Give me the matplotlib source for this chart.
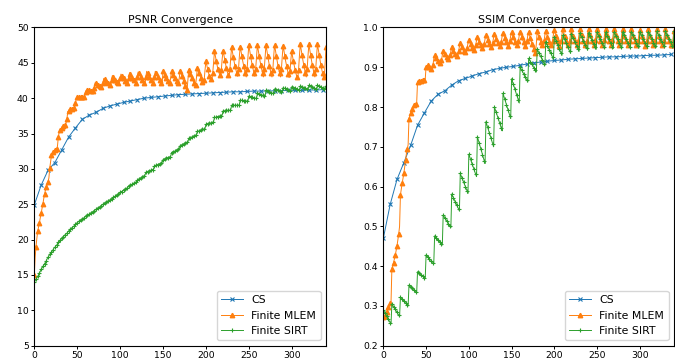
import numpy as np
import matplotlib
matplotlib.use("Agg")
import matplotlib.pyplot as plt

# CS is sampled every 8 iterations, the finite methods every iteration
cs_iters = np.arange(0, 337, 8)

cs_psnr = [24.9, 27.7, 29.8, 30.9, 32.7, 34.5, 35.8, 37.0, 37.6, 38.0,
           38.55, 38.9, 39.15, 39.4, 39.6, 39.8, 40.0, 40.1, 40.2, 40.3,
           40.4, 40.5, 40.55, 40.6, 40.65, 40.7, 40.75, 40.8, 40.85, 40.9,
           40.9, 40.95, 41.0, 41.0, 41.0, 41.05, 41.05, 41.1, 41.1, 41.1,
           41.15, 41.15, 41.2]

cs_ssim = [0.470, 0.555, 0.618, 0.660, 0.704, 0.754, 0.785, 0.815, 0.832, 0.841,
           0.855, 0.866, 0.872, 0.878, 0.884, 0.888, 0.894, 0.897, 0.900, 0.902,
           0.905, 0.908, 0.911, 0.913, 0.915, 0.917, 0.918, 0.920, 0.921, 0.922,
           0.923, 0.924, 0.925, 0.926, 0.926, 0.927, 0.928, 0.928, 0.929, 0.930,
           0.930, 0.931, 0.932]

mlem_psnr = [
    15.0, 17.5, 19.0, 20.2, 21.2, 21.8, 22.4, 23.1, 23.7, 24.4,
    25.0, 25.8, 26.4, 27.0, 27.4, 27.8, 28.2, 28.7, 30.1, 31.0,
    31.9, 32.2, 32.4, 32.5, 32.6, 32.7, 32.8, 33.2, 34.5, 35.2,
    35.5, 35.7, 35.8, 35.9, 36.0, 36.1, 36.2, 36.5, 37.0, 38.1,
    38.2, 38.3, 38.4, 38.4, 38.5, 38.5, 38.6, 38.8, 39.3, 40.0,
    40.1, 40.1, 40.1, 40.2, 40.2, 40.2, 40.2, 40.2, 40.2, 40.5,
    40.9, 41.1, 41.2, 41.2, 41.1, 41.1, 41.0, 41.0, 41.0, 41.0,
    41.5, 42.2, 42.1, 42.0, 41.9, 41.8, 41.7, 41.6, 41.6, 41.5,
    42.2, 42.8, 42.7, 42.5, 42.3, 42.2, 42.1, 42.0, 41.9, 41.9,
    42.6, 43.2, 43.0, 42.8, 42.6, 42.4, 42.3, 42.2, 42.1, 42.0,
    42.8, 43.4, 43.2, 43.0, 42.8, 42.6, 42.4, 42.3, 42.1, 42.0,
    42.9, 43.6, 43.4, 43.1, 42.9, 42.7, 42.5, 42.3, 42.2, 42.0,
    43.0, 43.7, 43.5, 43.2, 43.0, 42.7, 42.5, 42.3, 42.2, 42.0,
    43.0, 43.8, 43.6, 43.3, 43.0, 42.8, 42.6, 42.4, 42.2, 42.1,
    43.0, 43.8, 43.6, 43.3, 43.0, 42.8, 42.6, 42.4, 42.2, 42.1,
    43.8, 43.6, 43.3, 43.0, 42.8, 42.6, 42.4, 42.2, 42.1, 42.9,
    43.8, 43.6, 43.3, 43.0, 42.8, 42.6, 42.4, 42.2, 42.1, 42.9,
    43.9, 43.6, 43.2, 42.8, 42.4, 42.0, 41.7, 41.4, 41.1, 42.5,
    44.0, 43.7, 43.4, 43.1, 42.8, 42.5, 42.2, 42.0, 41.9, 42.9,
    44.2, 43.9, 43.5, 43.2, 42.9, 42.6, 42.3, 42.1, 42.6, 44.0,
    45.2, 44.7, 44.1, 43.6, 43.2, 42.9, 42.7, 42.6, 43.6, 45.2,
    46.6, 46.0, 45.3, 44.7, 44.1, 43.7, 43.3, 43.0, 44.0, 45.6,
    46.7, 46.1, 45.4, 44.8, 44.2, 43.7, 43.3, 43.0, 44.1, 45.8,
    47.2, 46.5, 45.8, 45.1, 44.5, 44.0, 43.5, 43.1, 44.1, 45.9,
    47.3, 46.6, 45.9, 45.2, 44.6, 44.0, 43.5, 43.0, 44.1, 45.9,
    47.5, 46.8, 46.0, 45.3, 44.7, 44.1, 43.6, 43.1, 44.1, 45.9,
    47.5, 46.8, 46.0, 45.3, 44.7, 44.1, 43.5, 43.0, 44.1, 45.9,
    47.5, 46.8, 46.0, 45.3, 44.6, 44.0, 43.5, 43.0, 44.0, 45.9,
    47.5, 46.8, 46.0, 45.3, 44.6, 44.0, 43.5, 43.0, 44.1, 45.9,
    47.4, 46.7, 45.9, 45.2, 44.6, 44.0, 43.4, 42.9, 43.8, 45.4,
    46.6, 45.9, 45.2, 44.6, 44.0, 43.5, 43.0, 42.7, 44.0, 46.0,
    47.6, 46.9, 46.1, 45.4, 44.7, 44.1, 43.5, 43.0, 44.1, 46.0,
    47.6, 46.9, 46.1, 45.4, 44.7, 44.1, 43.5, 43.0, 44.1, 46.0,
    47.6, 46.9, 46.1, 45.4, 44.7, 44.1, 43.5, 43.0, 43.0, 45.0,
    47.2]

sirt_psnr = [
    14.0, 14.2, 14.4, 14.6, 14.8, 15.0, 15.3, 15.5, 15.8, 16.0,
    16.2, 16.4, 16.6, 16.8, 17.0, 17.3, 17.5, 17.7, 17.9, 18.1,
    18.2, 18.4, 18.6, 18.8, 18.9, 19.1, 19.2, 19.4, 19.6, 19.7,
    19.9, 20.0, 20.2, 20.3, 20.4, 20.6, 20.7, 20.8, 20.9, 21.1,
    21.2, 21.4, 21.5, 21.6, 21.7, 21.8, 21.9, 22.0, 22.2, 22.3,
    22.4, 22.5, 22.6, 22.7, 22.8, 22.8, 22.9, 23.0, 23.1, 23.2,
    23.3, 23.4, 23.5, 23.5, 23.6, 23.7, 23.8, 23.9, 23.9, 24.0,
    24.1, 24.2, 24.3, 24.4, 24.5, 24.5, 24.6, 24.7, 24.8, 24.9,
    25.0, 25.1, 25.2, 25.2, 25.3, 25.4, 25.5, 25.6, 25.6, 25.7,
    25.8, 25.9, 26.0, 26.1, 26.1, 26.2, 26.3, 26.4, 26.4, 26.5,
    26.7, 26.8, 26.8, 26.9, 27.0, 27.1, 27.1, 27.2, 27.3, 27.4,
    27.6, 27.6, 27.7, 27.8, 27.8, 27.9, 28.0, 28.0, 28.1, 28.2,
    28.4, 28.5, 28.6, 28.7, 28.7, 28.8, 28.9, 29.0, 29.0, 29.1,
    29.5, 29.6, 29.6, 29.7, 29.7, 29.8, 29.8, 29.9, 29.9, 30.0,
    30.4, 30.5, 30.5, 30.6, 30.6, 30.7, 30.7, 30.8, 30.8, 30.9,
    31.3, 31.4, 31.4, 31.5, 31.5, 31.6, 31.6, 31.7, 31.7, 31.8,
    32.3, 32.4, 32.4, 32.5, 32.5, 32.6, 32.7, 32.7, 32.8, 32.8,
    33.3, 33.4, 33.4, 33.5, 33.5, 33.6, 33.7, 33.7, 33.8, 33.8,
    34.3, 34.4, 34.4, 34.5, 34.5, 34.6, 34.7, 34.7, 34.8, 34.8,
    35.3, 35.3, 35.4, 35.4, 35.5, 35.5, 35.6, 35.6, 35.7, 35.7,
    36.3, 36.3, 36.4, 36.4, 36.5, 36.5, 36.5, 36.6, 36.6, 36.7,
    37.3, 37.3, 37.3, 37.4, 37.4, 37.4, 37.5, 37.5, 37.5, 37.6,
    38.2, 38.2, 38.2, 38.2, 38.3, 38.3, 38.3, 38.3, 38.3, 38.4,
    39.0, 39.0, 39.0, 39.0, 39.0, 39.0, 39.0, 39.0, 39.0, 39.1,
    39.7, 39.7, 39.7, 39.6, 39.6, 39.6, 39.6, 39.6, 39.6, 39.6,
    40.3, 40.2, 40.2, 40.2, 40.1, 40.1, 40.0, 40.0, 40.0, 39.9,
    40.7, 40.7, 40.6, 40.6, 40.5, 40.5, 40.4, 40.4, 40.3, 40.3,
    41.1, 41.0, 41.0, 40.9, 40.9, 40.8, 40.8, 40.7, 40.7, 40.6,
    41.3, 41.3, 41.2, 41.2, 41.1, 41.0, 41.0, 40.9, 40.9, 40.8,
    41.5, 41.4, 41.4, 41.3, 41.3, 41.2, 41.1, 41.1, 41.0, 41.0,
    41.6, 41.6, 41.5, 41.5, 41.4, 41.3, 41.3, 41.2, 41.2, 41.1,
    41.7, 41.7, 41.6, 41.6, 41.5, 41.4, 41.4, 41.3, 41.3, 41.2,
    41.8, 41.8, 41.7, 41.6, 41.6, 41.5, 41.4, 41.4, 41.3, 41.3,
    41.8, 41.8, 41.7, 41.7, 41.6, 41.5, 41.5, 41.4, 41.3, 41.3,
    41.7]

mlem_ssim = [
    0.273, 0.272, 0.274, 0.278, 0.285, 0.292, 0.298, 0.303, 0.307, 0.310,
    0.394, 0.402, 0.409, 0.418, 0.428, 0.440, 0.451, 0.466, 0.481, 0.500,
    0.579, 0.594, 0.608, 0.620, 0.633, 0.650, 0.667, 0.683, 0.695, 0.705,
    0.771, 0.778, 0.784, 0.790, 0.796, 0.800, 0.804, 0.807, 0.808, 0.810,
    0.863, 0.864, 0.865, 0.866, 0.866, 0.867, 0.867, 0.868, 0.869, 0.870,
    0.901, 0.904, 0.905, 0.903, 0.900, 0.897, 0.895, 0.896, 0.905, 0.920,
    0.930, 0.926, 0.922, 0.918, 0.915, 0.912, 0.910, 0.909, 0.918, 0.930,
    0.940, 0.936, 0.932, 0.928, 0.925, 0.922, 0.920, 0.919, 0.930, 0.942,
    0.951, 0.946, 0.941, 0.937, 0.934, 0.931, 0.929, 0.928, 0.940, 0.952,
    0.960, 0.955, 0.950, 0.946, 0.942, 0.939, 0.937, 0.936, 0.948, 0.960,
    0.968, 0.963, 0.958, 0.953, 0.949, 0.946, 0.944, 0.943, 0.955, 0.967,
    0.975, 0.969, 0.964, 0.959, 0.955, 0.951, 0.948, 0.946, 0.958, 0.971,
    0.980, 0.974, 0.968, 0.963, 0.958, 0.954, 0.951, 0.949, 0.962, 0.975,
    0.984, 0.978, 0.972, 0.966, 0.961, 0.957, 0.953, 0.951, 0.964, 0.978,
    0.986, 0.980, 0.974, 0.968, 0.963, 0.958, 0.954, 0.952, 0.965, 0.979,
    0.988, 0.982, 0.975, 0.969, 0.964, 0.959, 0.955, 0.952, 0.966, 0.980,
    0.989, 0.982, 0.975, 0.969, 0.963, 0.958, 0.954, 0.951, 0.965, 0.980,
    0.989, 0.981, 0.973, 0.965, 0.958, 0.951, 0.945, 0.939, 0.935, 0.960,
    0.990, 0.983, 0.976, 0.970, 0.964, 0.959, 0.955, 0.952, 0.966, 0.981,
    0.991, 0.984, 0.977, 0.970, 0.964, 0.959, 0.955, 0.952, 0.967, 0.983,
    0.994, 0.986, 0.978, 0.971, 0.965, 0.959, 0.954, 0.950, 0.966, 0.983,
    0.995, 0.987, 0.979, 0.972, 0.966, 0.960, 0.955, 0.951, 0.967, 0.984,
    0.995, 0.987, 0.979, 0.972, 0.966, 0.960, 0.955, 0.951, 0.967, 0.984,
    0.995, 0.987, 0.980, 0.973, 0.966, 0.960, 0.955, 0.951, 0.967, 0.984,
    0.996, 0.988, 0.980, 0.973, 0.966, 0.960, 0.955, 0.951, 0.968, 0.985,
    0.996, 0.988, 0.980, 0.973, 0.967, 0.961, 0.956, 0.952, 0.968, 0.985,
    0.996, 0.988, 0.980, 0.973, 0.967, 0.961, 0.956, 0.952, 0.968, 0.985,
    0.996, 0.988, 0.980, 0.973, 0.966, 0.960, 0.955, 0.951, 0.967, 0.984,
    0.995, 0.987, 0.979, 0.972, 0.966, 0.960, 0.955, 0.951, 0.967, 0.984,
    0.995, 0.987, 0.979, 0.972, 0.966, 0.960, 0.955, 0.951, 0.966, 0.983,
    0.994, 0.986, 0.978, 0.971, 0.965, 0.959, 0.954, 0.950, 0.967, 0.984,
    0.995, 0.987, 0.979, 0.972, 0.966, 0.960, 0.955, 0.951, 0.967, 0.984,
    0.995, 0.987, 0.979, 0.972, 0.966, 0.960, 0.955, 0.951, 0.967, 0.984,
    0.995, 0.987, 0.979, 0.972, 0.966, 0.960, 0.955, 0.951, 0.955, 0.975,
    0.992]

sirt_ssim = [
    0.290, 0.286, 0.282, 0.278, 0.274, 0.270, 0.266, 0.262, 0.258, 0.255,
    0.305, 0.301, 0.298, 0.294, 0.291, 0.287, 0.284, 0.280, 0.277, 0.273,
    0.322, 0.320, 0.317, 0.315, 0.312, 0.310, 0.307, 0.305, 0.302, 0.300,
    0.352, 0.350, 0.348, 0.346, 0.344, 0.341, 0.339, 0.337, 0.335, 0.333,
    0.386, 0.384, 0.382, 0.380, 0.378, 0.377, 0.375, 0.373, 0.371, 0.369,
    0.428, 0.426, 0.423, 0.421, 0.418, 0.416, 0.414, 0.412, 0.409, 0.407,
    0.476, 0.473, 0.471, 0.468, 0.466, 0.463, 0.461, 0.458, 0.456, 0.453,
    0.528, 0.525, 0.521, 0.518, 0.514, 0.511, 0.507, 0.504, 0.500, 0.497,
    0.581, 0.576, 0.572, 0.567, 0.562, 0.558, 0.553, 0.548, 0.544, 0.539,
    0.633, 0.627, 0.622, 0.616, 0.611, 0.605, 0.600, 0.594, 0.589, 0.583,
    0.681, 0.675, 0.669, 0.662, 0.656, 0.650, 0.644, 0.637, 0.631, 0.625,
    0.725, 0.718, 0.710, 0.703, 0.695, 0.688, 0.680, 0.673, 0.665, 0.658,
    0.763, 0.756, 0.749, 0.742, 0.735, 0.728, 0.721, 0.714, 0.707, 0.700,
    0.800, 0.793, 0.787, 0.780, 0.773, 0.767, 0.760, 0.753, 0.747, 0.740,
    0.834, 0.827, 0.820, 0.813, 0.806, 0.799, 0.792, 0.785, 0.778, 0.771,
    0.871, 0.864, 0.857, 0.851, 0.844, 0.837, 0.830, 0.824, 0.817, 0.810,
    0.900, 0.896, 0.892, 0.888, 0.884, 0.879, 0.875, 0.871, 0.867, 0.863,
    0.922, 0.918, 0.914, 0.911, 0.907, 0.903, 0.899, 0.896, 0.892, 0.888,
    0.945, 0.941, 0.936, 0.932, 0.927, 0.923, 0.918, 0.914, 0.909, 0.905,
    0.964, 0.959, 0.954, 0.949, 0.944, 0.940, 0.935, 0.930, 0.925, 0.920,
    0.976, 0.971, 0.966, 0.961, 0.956, 0.950, 0.945, 0.940, 0.935, 0.930,
    0.980, 0.975, 0.970, 0.965, 0.960, 0.955, 0.950, 0.945, 0.940, 0.935,
    0.983, 0.978, 0.973, 0.969, 0.964, 0.959, 0.954, 0.950, 0.945, 0.940,
    0.985, 0.980, 0.976, 0.971, 0.966, 0.962, 0.957, 0.952, 0.948, 0.943,
    0.987, 0.982, 0.978, 0.973, 0.968, 0.964, 0.959, 0.954, 0.950, 0.945,
    0.988, 0.983, 0.979, 0.974, 0.970, 0.965, 0.961, 0.956, 0.952, 0.947,
    0.988, 0.983, 0.979, 0.974, 0.970, 0.965, 0.961, 0.956, 0.952, 0.947,
    0.988, 0.984, 0.979, 0.975, 0.970, 0.966, 0.961, 0.957, 0.952, 0.948,
    0.989, 0.984, 0.980, 0.975, 0.970, 0.966, 0.961, 0.957, 0.952, 0.948,
    0.989, 0.984, 0.980, 0.975, 0.971, 0.966, 0.962, 0.957, 0.953, 0.948,
    0.989, 0.984, 0.980, 0.975, 0.971, 0.966, 0.962, 0.957, 0.953, 0.948,
    0.989, 0.985, 0.980, 0.976, 0.971, 0.967, 0.962, 0.958, 0.953, 0.949,
    0.990, 0.985, 0.981, 0.976, 0.972, 0.967, 0.963, 0.958, 0.954, 0.949,
    0.990, 0.985, 0.981, 0.976, 0.972, 0.967, 0.963, 0.958, 0.954, 0.949,
    0.990]

mlem_iters = np.arange(len(mlem_psnr))
sirt_iters = np.arange(len(sirt_psnr))

fig = plt.figure(figsize=(6.75, 3.61), dpi=100)
ax1 = fig.add_axes([0.0508, 0.0424, 0.4322, 0.8816])
ax2 = fig.add_axes([0.5679, 0.0424, 0.4306, 0.8816])

lw = 0.7
panels = [
    (ax1, cs_psnr, mlem_psnr, sirt_psnr, "PSNR Convergence", (5, 50), np.arange(5, 51, 5)),
    (ax2, cs_ssim, mlem_ssim, sirt_ssim, "SSIM Convergence", (0.2, 1.0), np.arange(0.2, 1.01, 0.1)),
]

for ax, cs, mlem, sirt, title, ylim, yticks in panels:
    ax.plot(cs_iters, cs, marker="x", color="C0", lw=lw, ms=3, mew=0.8, label="CS")
    ax.plot(mlem_iters, mlem, marker="^", color="C1", lw=lw, ms=3.2, markevery=2,
            label="Finite MLEM")
    ax.plot(sirt_iters, sirt, marker="+", color="C2", lw=lw, ms=3.5, mew=0.8, markevery=2,
            label="Finite SIRT")
    ax.set_xlim(0, 340)
    ax.set_ylim(*ylim)
    ax.set_yticks(yticks)
    ax.set_xticks(np.arange(0, 301, 50))
    ax.set_title(title, fontsize=7.8, pad=3)
    ax.tick_params(labelsize=6.7, length=2.5, width=0.7, pad=1.5)
    for s in ax.spines.values():
        s.set_linewidth(0.8)
    ax.legend(loc="lower right", fontsize=7.8, borderaxespad=0.5, handlelength=2.0)

ax2.set_yticklabels(["%.1f" % t for t in np.arange(0.2, 1.01, 0.1)])

fig.savefig("out.png", dpi=100)
